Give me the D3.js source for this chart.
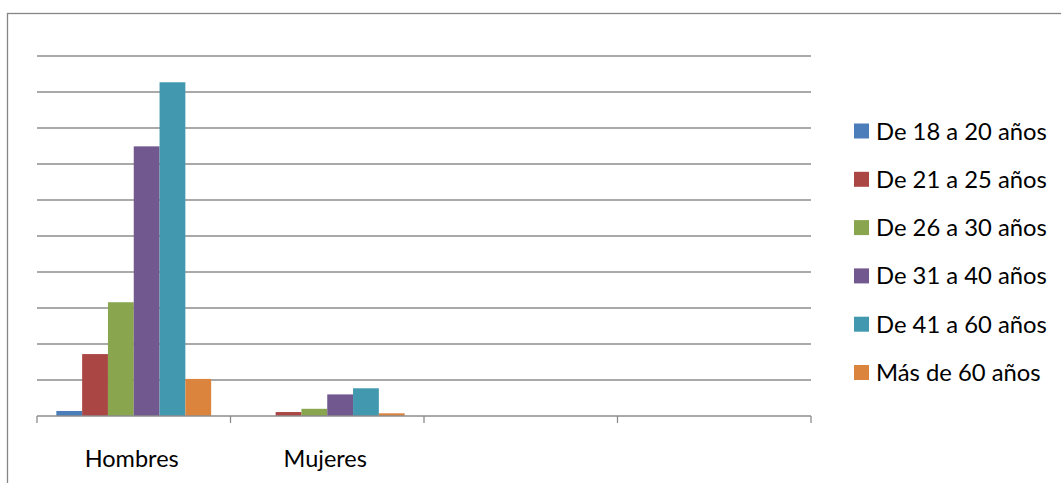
<!DOCTYPE html>
<html>
<head>
  <meta charset="utf-8">
  <script src="https://d3js.org/d3.v7.min.js"></script>
  <style>
    body { margin: 0; background: #fff; }
    .grid line { stroke: #8c8c8c; stroke-width: 1.3; }
    .axis line { stroke: #8c8c8c; stroke-width: 1.3; }
    text { font-family: Lato, "Open Sans", sans-serif; fill: #000; }
  </style>
</head>
<body>
  <div id="chart"></div>
  <script>
    var categories = ["Hombres", "Mujeres", "", ""];
    var series = ["De 18 a 20 años", "De 21 a 25 años", "De 26 a 30 años", "De 31 a 40 años", "De 41 a 60 años", "Más de 60 años"];
    var colors = ["#4a7dba", "#aa4643", "#89a54e", "#71588f", "#4198af", "#db843d"];
    // one row per series, one value per category
    var values = [
      [1.4, 0, 0, 0],
      [17.2, 1.1, 0, 0],
      [31.6, 2.0, 0, 0],
      [74.9, 6.0, 0, 0],
      [92.7, 7.7, 0, 0],
      [10.3, 0.75, 0, 0]
    ];
    var yTicks = [10, 20, 30, 40, 50, 60, 70, 80, 90, 100];

    var w = 1061;
    var h = 483;
    var plotLeft = 37, plotRight = 811, plotTop = 56, plotBase = 416;

    var svg = d3.select("#chart").append("svg")
      .attr("width", w)
      .attr("height", h);

    // outer chart frame (runs off the right and bottom edge)
    svg.append("rect")
      .attr("x", 7.5).attr("y", 13.5)
      .attr("width", w + 20).attr("height", h + 20)
      .attr("fill", "none")
      .attr("stroke", "#868686")
      .attr("stroke-width", 1.3);

    var x0 = d3.scaleBand().domain(d3.range(categories.length)).range([plotLeft, plotRight]);
    var x1 = d3.scaleBand().domain(d3.range(series.length)).range([0, x0.bandwidth()])
      .paddingInner(0).paddingOuter(0.75);
    var y = d3.scaleLinear().domain([0, 100]).range([plotBase, plotTop]);

    svg.append("g").attr("class", "grid")
      .selectAll("line").data(yTicks).enter().append("line")
      .attr("x1", plotLeft).attr("x2", plotRight)
      .attr("y1", d => y(d)).attr("y2", d => y(d));

    var groups = svg.selectAll(".series").data(values).enter().append("g")
      .attr("class", "series")
      .attr("fill", (d, i) => colors[i]);

    groups.each(function(row, si) {
      d3.select(this).selectAll("rect").data(row).enter().append("rect")
        .attr("x", (d, ci) => x0(ci) + x1(si))
        .attr("width", x1.bandwidth())
        .attr("y", d => y(d))
        .attr("height", d => plotBase - y(d));
    });

    var axisG = svg.append("g").attr("class", "axis");
    axisG.append("line")
      .attr("x1", plotLeft).attr("x2", plotRight)
      .attr("y1", plotBase).attr("y2", plotBase);
    axisG.selectAll(".tick-mark").data(d3.range(categories.length + 1)).enter().append("line")
      .attr("class", "tick-mark")
      .attr("x1", d => plotLeft + d * x0.step()).attr("x2", d => plotLeft + d * x0.step())
      .attr("y1", plotBase).attr("y2", plotBase + 7);

    svg.selectAll(".cat-label").data(categories).enter().append("text")
      .attr("class", "cat-label")
      .attr("x", (d, i) => x0(i) + x0.bandwidth() / 2 - 2)
      .attr("y", 467)
      .attr("text-anchor", "middle")
      .style("font-size", "23.5px")
      .text(d => d);

    var legend = svg.append("g").attr("transform", "translate(854,0)");
    var items = legend.selectAll("g").data(series).enter().append("g")
      .attr("transform", (d, i) => `translate(0,${131 + i * 48.3})`);
    items.append("rect")
      .attr("x", 0).attr("y", -7.5)
      .attr("width", 15).attr("height", 15)
      .attr("fill", (d, i) => colors[i]);
    items.append("text")
      .attr("x", 22).attr("y", 0)
      .attr("dy", "0.36em")
      .style("font-size", "23.8px")
      .text(d => d);
  </script>
</body>
</html>
